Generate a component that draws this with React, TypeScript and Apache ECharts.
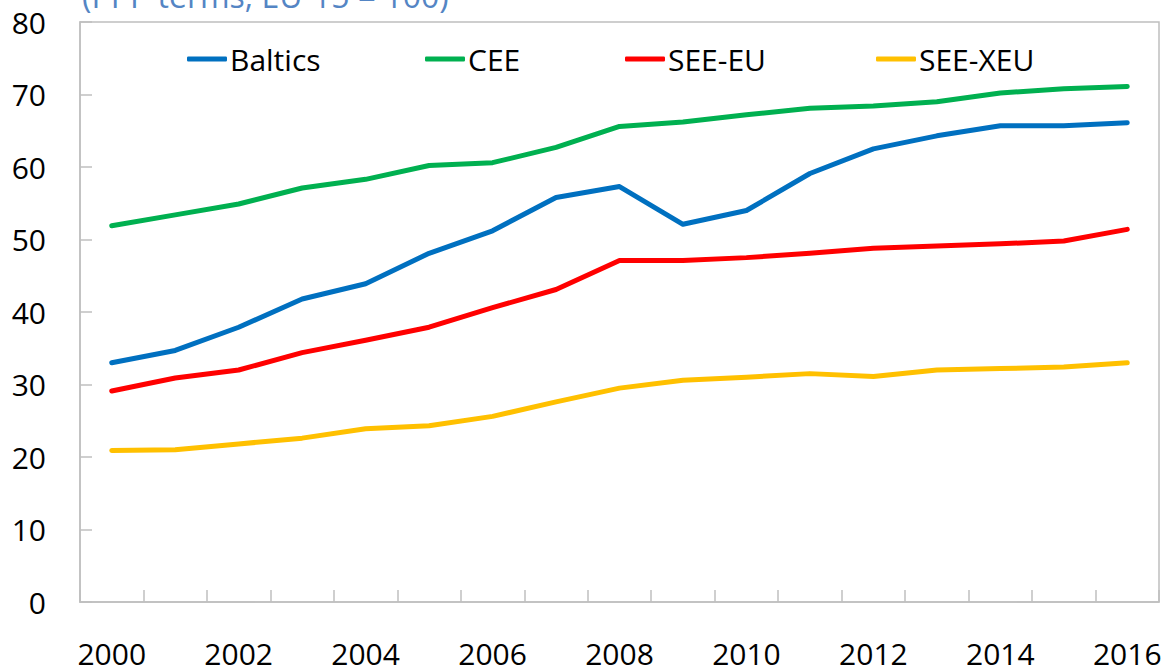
import React, { useEffect, useRef } from "react";
import * as echarts from "echarts";

const years = ["2000","2001","2002","2003","2004","2005","2006","2007","2008","2009","2010","2011","2012","2013","2014","2015","2016"];
const baltics = [33.0, 34.7, 37.9, 41.8, 43.9, 48.1, 51.2, 55.8, 57.3, 52.1, 54.0, 59.1, 62.5, 64.3, 65.7, 65.7, 66.1];
const cee = [51.9, 53.4, 54.9, 57.1, 58.3, 60.2, 60.6, 62.7, 65.6, 66.2, 67.2, 68.1, 68.4, 69.0, 70.2, 70.8, 71.1];
const seeEu = [29.1, 30.9, 32.0, 34.4, 36.1, 37.9, 40.6, 43.1, 47.1, 47.1, 47.5, 48.1, 48.8, 49.1, 49.4, 49.8, 51.4];
const seeXeu = [20.9, 21.0, 21.8, 22.6, 23.9, 24.3, 25.6, 27.6, 29.5, 30.6, 31.0, 31.5, 31.1, 32.0, 32.2, 32.4, 33.0];
const seriesNames = ["Baltics", "CEE", "SEE-EU", "SEE-XEU"];
const seriesColors = ["#0070C0", "#00B050", "#FF0000", "#FFC000"];
const subtitle = "(PPP terms, EU-15 = 100)";

const FONT = "'Open Sans', 'Noto Sans', sans-serif";
const legendLefts = [187, 425, 625, 876];

export default function App() {
  const ref = useRef<HTMLDivElement>(null);
  useEffect(() => {
    if (!ref.current) return;
    const chart = echarts.init(ref.current, undefined, { renderer: "svg" });
    const data = [baltics, cee, seeEu, seeXeu];
    chart.setOption({
      animation: false,
      backgroundColor: "#ffffff",
      textStyle: { fontFamily: FONT },
      grid: {
        left: 80, right: 9, top: 22, bottom: 63,
        show: true, borderColor: "#bfbfbf", borderWidth: 1.5,
      },
      legend: seriesNames.map((n, i) => ({
        data: [n],
        left: legendLefts[i],
        top: 44,
        icon: "roundRect",
        itemWidth: 40,
        itemHeight: 5,
        textStyle: { fontSize: 30, color: "#000", fontFamily: FONT, padding: [0, 0, 0, -2] },
        selectedMode: false,
        padding: 0,
      })),
      graphic: [
        {
          type: "text",
          left: 82,
          top: -21,
          style: { text: subtitle, fontSize: 32, fontFamily: FONT, fill: "#5485c4" },
        },
      ],
      xAxis: {
        type: "category",
        data: years,
        boundaryGap: true,
        axisLine: { lineStyle: { color: "#bfbfbf", width: 1.5 } },
        axisTick: { show: true, inside: true, length: 12, interval: 0, lineStyle: { color: "#bfbfbf", width: 1.5 } },
        axisLabel: { interval: 1, fontSize: 30, color: "#000", margin: 36, fontFamily: FONT },
        splitLine: { show: false },
      },
      yAxis: {
        type: "value",
        min: 0, max: 80, interval: 10,
        axisLine: { show: true, lineStyle: { color: "#bfbfbf", width: 1.5 } },
        axisTick: { show: true, inside: true, length: 12, lineStyle: { color: "#bfbfbf", width: 1.5 } },
        axisLabel: { fontSize: 30, color: "#000", margin: 34, fontFamily: FONT },
        splitLine: { show: false },
      },
      series: seriesNames.map((n, i) => ({
        name: n,
        type: "line",
        data: data[i],
        symbol: "none",
        color: seriesColors[i],
        lineStyle: { width: 5, color: seriesColors[i], cap: "round", join: "round" },
      })),
    });
    return () => chart.dispose();
  }, []);
  return <div ref={ref} style={{ position: "absolute", left: 0, top: 0, width: 1168, height: 668 }} />;
}
